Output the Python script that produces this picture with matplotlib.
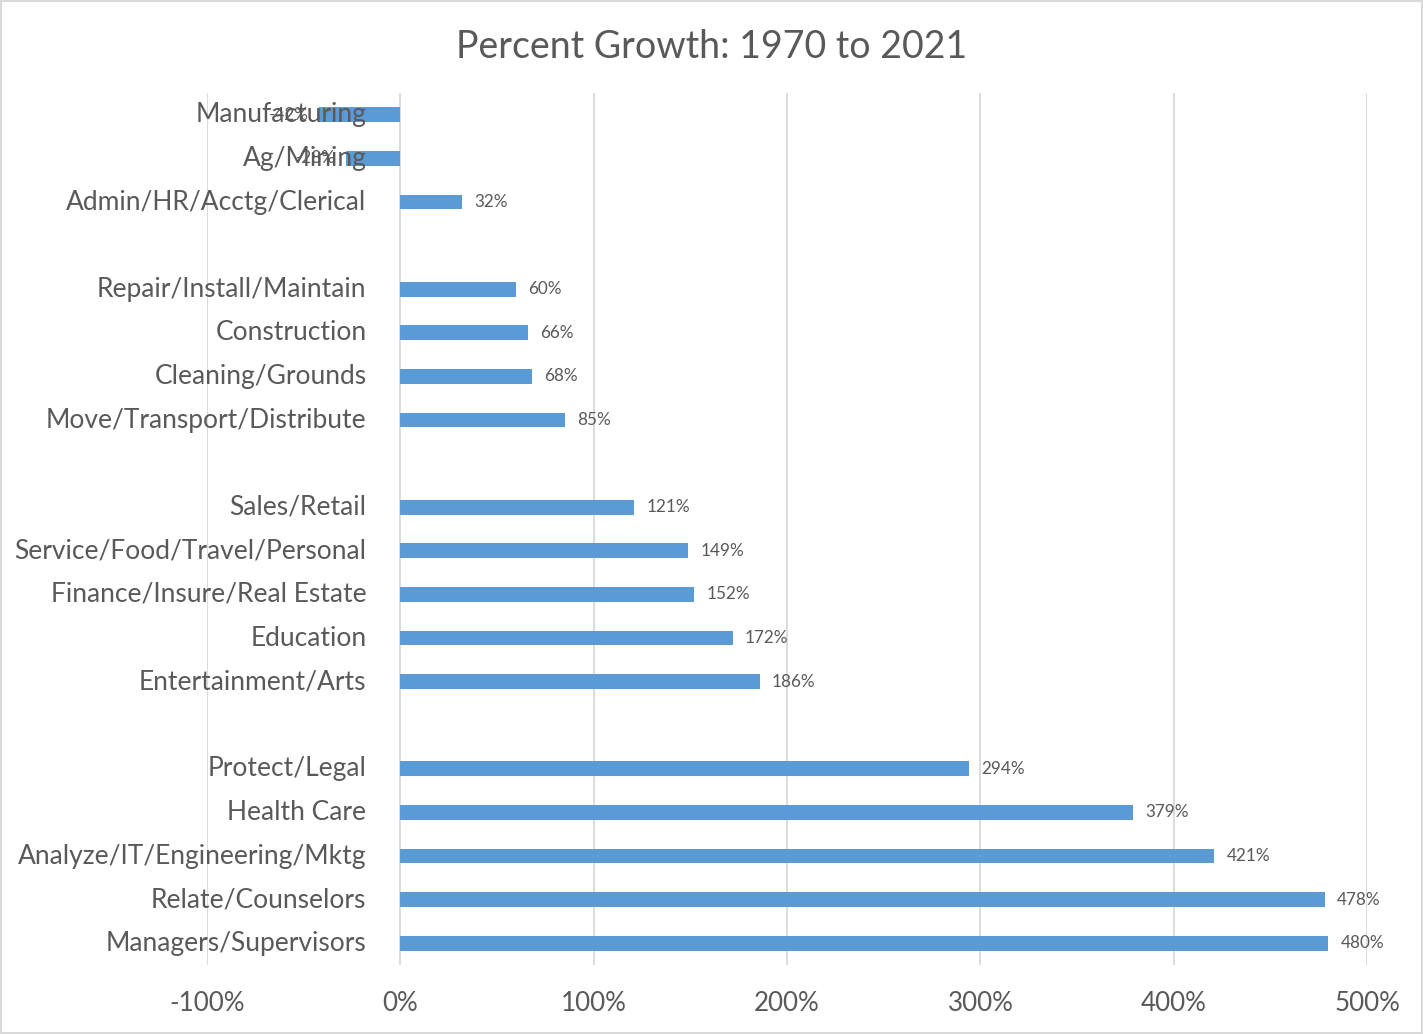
import numpy as np
import matplotlib.pyplot as plt
from matplotlib.patches import Rectangle
from matplotlib.transforms import offset_copy, blended_transform_factory

categories = ['Manufacturing', 'Ag/Mining', 'Admin/HR/Acctg/Clerical', '',
              'Repair/Install/Maintain', 'Construction', 'Cleaning/Grounds',
              'Move/Transport/Distribute', '',
              'Sales/Retail', 'Service/Food/Travel/Personal',
              'Finance/Insure/Real Estate', 'Education', 'Entertainment/Arts', '',
              'Protect/Legal', 'Health Care', 'Analyze/IT/Engineering/Mktg',
              'Relate/Counselors', 'Managers/Supervisors']
growth = [-42, -28, 32, None, 60, 66, 68, 85, None,
          121, 149, 152, 172, 186, None, 294, 379, 421, 478, 480]
xticks = [-100, 0, 100, 200, 300, 400, 500]

plt.rcParams['font.family'] = ['Lato', 'DejaVu Sans']
txt = '#595959'
bar_c = '#5B9BD5'
grid_c = '#D9D9D9'

fig = plt.figure(figsize=(14.23, 10.34), dpi=100)
ax = fig.add_axes([0.1455, 0.0667, 0.8152, 0.8433])

rows = [i for i, v in enumerate(growth) if v is not None]
vals = [growth[i] for i in rows]
ax.barh(rows, vals, height=0.34, color=bar_c, zorder=3)

ax.set_xlim(-100, 500)
ax.set_ylim(len(categories) - 0.5, -0.5)
ax.set_xticks(xticks)
ax.set_xticklabels([f'{t}%' for t in xticks], fontsize=18.7, color=txt)
ax.tick_params(axis='x', length=0, pad=19)
ax.set_yticks([])
ax.grid(axis='x', color=grid_c, linewidth=1.3, zorder=0)
for s in ax.spines.values():
    s.set_visible(False)

# category labels sit next to the zero line, drawn over the bars
lab_tr = offset_copy(blended_transform_factory(ax.transData, ax.transData),
                     fig=fig, x=-34, y=0, units='dots')
for i, c in enumerate(categories):
    if c:
        ax.text(0, i, c, transform=lab_tr, ha='right', va='center',
                fontsize=19, color=txt, zorder=5)

for i, v in zip(rows, vals):
    if v >= 0:
        tr = offset_copy(ax.transData, fig=fig, x=12, y=0, units='dots')
        ax.text(v, i, f'{v}%', transform=tr, ha='left', va='center',
                fontsize=12.3, color=txt, zorder=4)
    else:
        tr = offset_copy(ax.transData, fig=fig, x=-10, y=0, units='dots')
        ax.text(v, i, f'{v}%', transform=tr, ha='right', va='center',
                fontsize=12.3, color=txt, zorder=4)

fig.text(0.5, 0.955, 'Percent Growth: 1970 to 2021', ha='center', va='center',
         fontsize=27, color=txt)
fig.patches.append(Rectangle((0.001, 0.001), 0.998, 0.998, transform=fig.transFigure,
                             fill=False, edgecolor=grid_c, linewidth=1.5))

fig.savefig('out.png', dpi=100)
